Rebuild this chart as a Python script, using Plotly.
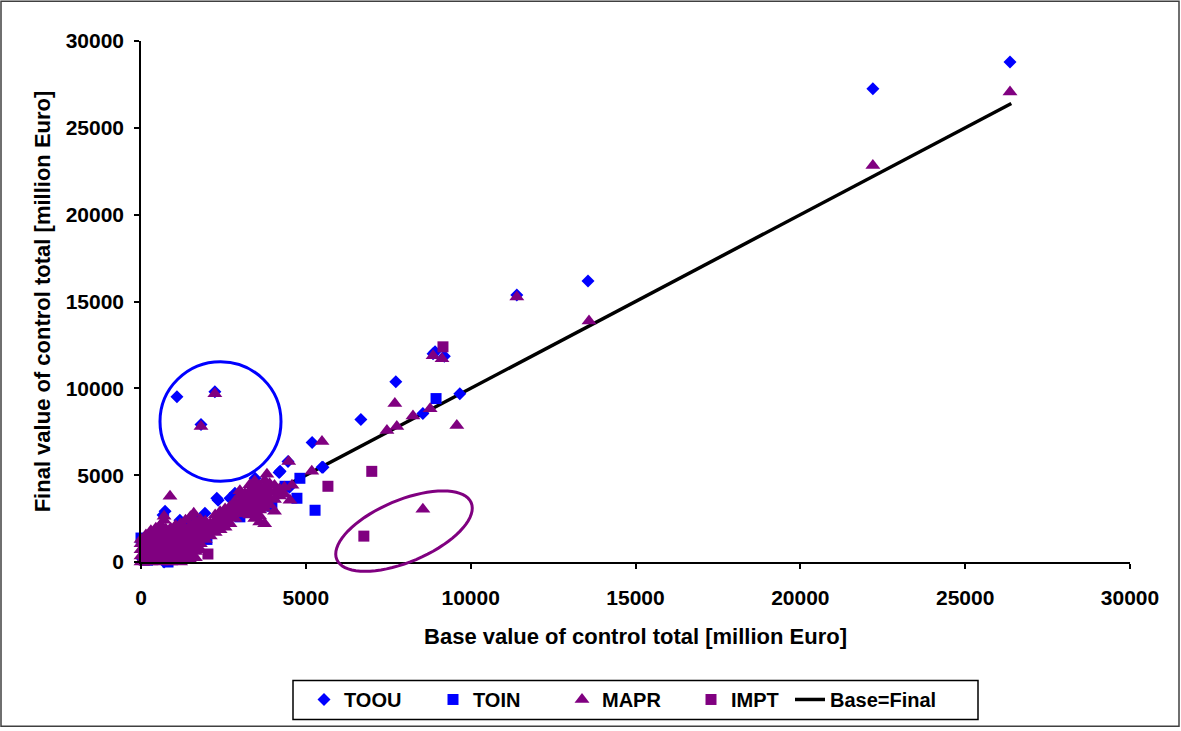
import numpy as np
import plotly.graph_objects as go

# ---------------- data ----------------
toou_x = [30, 120, 250, 400, 520, 670, 730, 700, 950, 1180, 1400, 1600, 1940, 1850, 2300, 2340,
          2700, 2850, 3100, 3460, 3850, 4220, 4190, 4500, 5190, 5490, 5520, 6670, 7730, 8550,
          8920, 9200, 9670, 11400, 13560, 22200, 26360, 1090, 1820, 2240, 4460, 8860]
toou_y = [200, 700, 350, 1100, 800, 2700, 2920, 0, 1500, 2400, 2200, 2500, 2810, 1380, 3670, 3560,
          3670, 3960, 3400, 4820, 3270, 5220, 5160, 4300, 6880, 5450, 5450, 8200, 10380, 8545,
          12100, 11850, 9690, 15370, 16175, 27245, 28795, 9520, 7915, 9810, 5790, 11990]

toin_x = [0, 200, 450, 820, 1000, 1400, 2000, 2500, 3000, 3400, 3970, 4370, 4730, 4820, 5280, 8950]
toin_y = [1380, 100, 300, 0, 500, 900, 1300, 2200, 2600, 3000, 3210, 4360, 3670, 4820, 2980, 9410]

mapr_x = [0, 0, 0, 0, 0,
          150, 150, 150, 150, 150,
          300, 300, 300, 300, 300, 300,
          450, 450, 450, 450, 450, 450,
          600, 600, 600, 600, 600, 600, 600,
          700, 700,
          750, 750, 750, 750, 750, 750,
          900, 900, 900, 900, 900, 900, 900,
          1050, 1050, 1050, 1050, 1050, 1050, 1050,
          1200, 1200, 1200, 1200, 1200, 1200, 1200,
          1350, 1350, 1350, 1350, 1350, 1350, 1350,
          1500, 1500, 1500, 1500, 1500, 1500, 1500, 1500,
          1600,
          1650, 1650, 1650, 1650, 1650, 1650, 1650,
          1800, 1800, 1800, 1800, 1800, 1800,
          1950, 1950, 1950, 1950,
          2100, 2100, 2100,
          2250, 2250, 2250, 2250,
          2400, 2400, 2400, 2400,
          2550, 2550, 2550, 2550,
          2700, 2700, 2700, 2700,
          2850, 2850, 2850, 2850,
          3000, 3000, 3000, 3000, 3000,
          3150, 3150, 3150, 3150,
          3300, 3300, 3300, 3300, 3300, 3300,
          3450, 3450, 3450, 3450, 3450, 3450, 3450,
          3600, 3600, 3600, 3600, 3600, 3600, 3600,
          3750, 3750, 3750, 3750, 3750, 3750, 3820,
          3900, 3900, 3900, 3900,
          4050, 4050, 4050, 4050,
          4200, 4200, 4350, 4350, 4520, 4580,
          4480, 5180, 5490, 880,
          1820, 2240, 7460, 7700, 7760, 8250, 8550, 8770, 8860, 9130, 9580,
          11400, 13590, 22200, 26360]
mapr_y = [0, 350, 700, 1050, 1300,
          150, 500, 850, 1200, 1550,
          0, 350, 700, 1050, 1400, 1800,
          150, 500, 850, 1200, 1550, 1950,
          0, 350, 700, 1050, 1400, 1750, 2150,
          2630, 2400,
          150, 500, 850, 1200, 1550, 1900,
          0, 350, 700, 1050, 1400, 1750, 1950,
          150, 500, 850, 1200, 1550, 1900, 2100,
          0, 350, 700, 1050, 1400, 1750, 2200,
          150, 500, 850, 1200, 1550, 1900, 2400,
          100, 350, 700, 1050, 1400, 1750, 2100, 2600,
          2800,
          250, 600, 950, 1300, 1650, 2000, 2350,
          700, 1050, 1400, 1750, 2100, 2450,
          1300, 1650, 2000, 2350,
          1500, 1850, 2200,
          1700, 2050, 2400, 2700,
          1850, 2200, 2550, 2900,
          2000, 2350, 2700, 3050,
          2200, 2550, 2900, 3200,
          2500, 2850, 3200, 3500,
          2800, 3150, 3500, 3850, 4100,
          2900, 3250, 3600, 3950,
          2700, 3050, 3400, 3750, 4100, 4450,
          2500, 2850, 3200, 3550, 3900, 4250, 4650,
          2300, 2650, 3000, 3350, 3700, 4050, 4400,
          2200, 3100, 3500, 3900, 4300, 4700, 5050,
          3300, 3700, 4100, 4500,
          2920, 3600, 4000, 4400,
          3800, 4200, 3900, 4300, 3560, 4420,
          5790, 5220, 6940, 3790,
          7800, 9690, 7570, 9120, 7800, 8400, 3040, 8830, 11870, 11700, 7860,
          15260, 13880, 22830, 27070]

impt_x = [100, 300, 500, 700, 900, 1200, 1500, 1800, 2030, 2200, 2600, 3000, 3500,
          5670, 6760, 7000, 9160]
impt_y = [100, 250, 400, 600, 800, 1100, 1300, 1600, 460, 2000, 2400, 2900, 3300,
          4360, 1490, 5220, 12390]

line_x = [0, 26400]
line_y = [0, 26400]

x_ticks = [0, 5000, 10000, 15000, 20000, 25000, 30000]
y_ticks = [0, 5000, 10000, 15000, 20000, 25000, 30000]

# ---------------- figure ----------------
BLUE = "#0000FF"
PURPLE = "#800080"
FONT = "Liberation Sans, Arial, sans-serif"

W, H = 1181, 731
L, R, T, B = 141, 51, 41, 167
PW, PH = W - L - R, H - T - B


def px2paper(px, py):
    return (px - L) / PW, (H - B - py) / PH


fig = go.Figure()
fig.add_trace(go.Scatter(x=line_x, y=line_y, mode="lines", name="Base=Final",
                         legend="legend2",
                         line=dict(color="black", width=3.5)))
fig.add_trace(go.Scatter(x=toou_x, y=toou_y, mode="markers", name="TOOU",
                         cliponaxis=False,
                         marker=dict(symbol="diamond", size=10, color=BLUE, line=dict(width=0))))
fig.add_trace(go.Scatter(x=toin_x, y=toin_y, mode="markers", name="TOIN",
                         cliponaxis=False,
                         marker=dict(symbol="square", size=11, color=BLUE, line=dict(width=0))))
fig.add_trace(go.Scatter(x=mapr_x, y=mapr_y, mode="markers", name="MAPR",
                         cliponaxis=False,
                         marker=dict(symbol="triangle-up", size=13, color=PURPLE, line=dict(width=0))))
fig.add_trace(go.Scatter(x=impt_x, y=impt_y, mode="markers", name="IMPT",
                         cliponaxis=False,
                         marker=dict(symbol="square", size=11, color=PURPLE, line=dict(width=0))))

# annotation ellipses (blue circle, tilted purple ellipse), legend box and outer frame
bx0, by0 = px2paper(160, 483)
bx1, by1 = px2paper(281, 363)
shapes = [dict(type="circle", xref="paper", yref="paper", x0=bx0, y0=by0, x1=bx1, y1=by1,
               line=dict(color=BLUE, width=3))]

cx, cy, a, b, th = 404, 533, 73, 31, np.deg2rad(23)
t = np.linspace(0, 2 * np.pi, 73)
ex = cx + a * np.cos(t) * np.cos(th) + b * np.sin(t) * np.sin(th)
ey = cy - a * np.cos(t) * np.sin(th) + b * np.sin(t) * np.cos(th)
pts = [px2paper(u, v) for u, v in zip(ex, ey)]
path = "M " + " L ".join(f"{p[0]:.5f},{p[1]:.5f}" for p in pts) + " Z"
shapes.append(dict(type="path", xref="paper", yref="paper", path=path,
                   line=dict(color=PURPLE, width=3)))

fx0, fy0 = px2paper(1, 729)
fx1, fy1 = px2paper(1179, 1)
shapes.append(dict(type="rect", xref="paper", yref="paper", x0=fx0, y0=fy0, x1=fx1, y1=fy1,
                   line=dict(color="#404040", width=1.5), layer="below"))

gx0, gy0 = px2paper(293, 722)
gx1, gy1 = px2paper(978, 683)
shapes.append(dict(type="rect", xref="paper", yref="paper", x0=gx0, y0=gy0, x1=gx1, y1=gy1,
                   line=dict(color="black", width=1.5)))

l1x, l1y = px2paper(304, 702)
l2x, l2y = px2paper(790, 702)

fig.update_layout(
    width=W, height=H,
    margin=dict(l=L, r=R, t=T, b=B),
    paper_bgcolor="white", plot_bgcolor="white",
    font=dict(family=FONT, color="black", size=20, weight="bold"),
    showlegend=True,
    legend=dict(orientation="h", x=l1x, y=l1y, xanchor="left", yanchor="middle",
                borderwidth=0, bgcolor="rgba(0,0,0,0)",
                font=dict(family=FONT, size=20, weight="bold", color="black"),
                entrywidth=84, entrywidthmode="pixels", traceorder="normal"),
    legend2=dict(orientation="h", x=l2x, y=l2y, xanchor="left", yanchor="middle",
                 borderwidth=0, bgcolor="rgba(0,0,0,0)",
                 font=dict(family=FONT, size=20, weight="bold", color="black")),
    shapes=shapes,
    xaxis=dict(range=[0, 30000], tickvals=x_ticks, ticktext=[str(v) for v in x_ticks],
               showgrid=False, zeroline=False, showline=True, linecolor="black", linewidth=1.5,
               ticks="outside", ticklen=5, tickcolor="black", tickwidth=1.5,
               ticklabelstandoff=11,
               tickfont=dict(family=FONT, size=21, weight="bold"),
               title=dict(text="Base value of control total [million Euro]", standoff=21,
                          font=dict(family=FONT, size=22, weight="bold"))),
    yaxis=dict(range=[0, 30000], tickvals=y_ticks, ticktext=[str(v) for v in y_ticks],
               showgrid=False, zeroline=False, showline=True, linecolor="black", linewidth=1.5,
               ticks="outside", ticklen=5, tickcolor="black", tickwidth=1.5,
               ticklabelstandoff=6,
               tickfont=dict(family=FONT, size=21, weight="bold"),
               title=dict(text="Final value of control total [million Euro]", standoff=9,
                          font=dict(family=FONT, size=22, weight="bold"))),
)

fig.write_html("out.html")
